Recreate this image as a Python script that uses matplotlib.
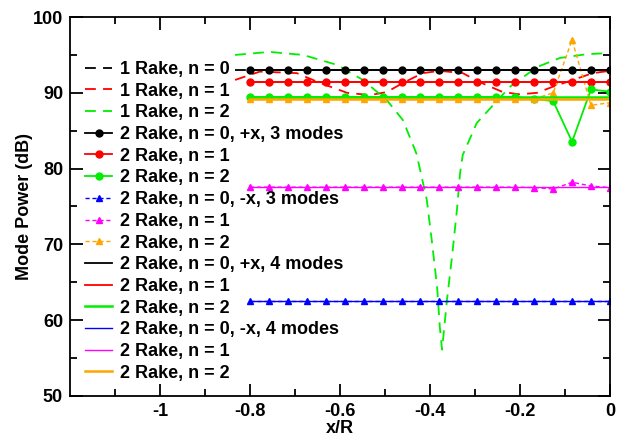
import matplotlib
matplotlib.use('Agg')
import matplotlib.pyplot as plt

plt.rcParams['font.family'] = ['Liberation Sans', 'DejaVu Sans']
plt.rcParams['font.weight'] = 'bold'
plt.rcParams['font.size'] = 13

# 1 rake curves
x1_n0 = [-0.833, -0.6, -0.4, -0.2, 0.0]
y1_n0 = [92.95, 92.95, 92.95, 92.95, 92.95]

x1_n1 = [-0.833, -0.778, -0.696, -0.644, -0.584, -0.533, -0.496, -0.460, -0.416,
         -0.378, -0.327, -0.289, -0.238, -0.200, -0.162, -0.127, -0.082, -0.038, 0.0]
y1_n1 = [91.7, 92.8, 92.6, 91.3, 90.0, 89.7, 90.1, 91.3, 92.6,
         92.9, 92.6, 91.4, 90.1, 89.8, 90.0, 90.8, 91.7, 92.6, 92.9]

x1_n2 = [-0.833, -0.756, -0.682, -0.607, -0.549, -0.496, -0.460, -0.430, -0.407,
         -0.396, -0.384, -0.378, -0.373, -0.362, -0.351, -0.340, -0.333, -0.327,
         -0.296, -0.273, -0.222, -0.162, -0.111, -0.051, 0.0]
y1_n2 = [95.0, 95.4, 95.0, 93.7, 91.7, 89.05, 86.4, 82.0, 75.9,
         70.6, 64.4, 59.1, 56.1, 62.7, 68.3, 74.5, 79.4, 81.8,
         86.0, 87.5, 90.8, 93.4, 94.6, 95.1, 95.25]

# 2 rake, 3 modes
x2 = [-0.8, -0.758, -0.716, -0.674, -0.632, -0.589, -0.547, -0.505, -0.463, -0.421,
      -0.379, -0.337, -0.295, -0.253, -0.211, -0.168, -0.126, -0.084, -0.042, 0.0]
p3_n0 = [92.95, 92.95, 92.95, 92.95, 92.95, 92.95, 92.95, 92.95, 92.95, 92.95,
         92.95, 92.95, 92.95, 92.95, 92.95, 92.95, 92.95, 92.95, 92.95, 92.95]
p3_n1 = [91.45, 91.45, 91.45, 91.45, 91.45, 91.45, 91.45, 91.45, 91.45, 91.45,
         91.45, 91.45, 91.45, 91.45, 91.45, 91.45, 91.45, 91.45, 91.45, 91.45]
p3_n2 = [89.45, 89.45, 89.45, 89.45, 89.45, 89.45, 89.45, 89.45, 89.45, 89.45,
         89.45, 89.45, 89.45, 89.45, 89.45, 89.2, 88.9, 83.55, 90.45, 90.15]
m3_n0 = [62.5, 62.5, 62.5, 62.5, 62.5, 62.5, 62.5, 62.5, 62.5, 62.5,
         62.5, 62.5, 62.5, 62.5, 62.5, 62.5, 62.5, 62.5, 62.5, 62.5]
m3_n1 = [77.55, 77.55, 77.55, 77.55, 77.55, 77.55, 77.55, 77.55, 77.55, 77.55,
         77.55, 77.55, 77.55, 77.55, 77.55, 77.5, 77.3, 78.2, 77.7, 77.5]
m3_n2 = [89.2, 89.2, 89.2, 89.2, 89.2, 89.2, 89.2, 89.2, 89.2, 89.2,
         89.2, 89.2, 89.2, 89.2, 89.2, 89.2, 90.0, 96.97, 88.35, 88.7]

# 2 rake, 4 modes (flat)
x4 = [-0.8, 0.0]
p4_n0 = [92.95, 92.95]
p4_n1 = [91.45, 91.45]
p4_n2 = [89.45, 89.45]
m4_n0 = [62.5, 62.5]
m4_n1 = [77.55, 77.55]
m4_n2 = [89.2, 89.2]

fig = plt.figure(figsize=(6.22, 4.37), dpi=100)
ax = fig.add_axes([0.1125, 0.094, 0.868, 0.867])

dash = (6, 4)
ax.plot(x1_n0, y1_n0, color='black', lw=1.3, dashes=dash, label='1 Rake, n = 0')
ax.plot(x1_n1, y1_n1, color='red', lw=1.3, dashes=dash, label='1 Rake, n = 1')
ax.plot(x1_n2, y1_n2, color='#00ee00', lw=1.3, dashes=dash, label='1 Rake, n = 2')

ax.plot(x2, p3_n0, color='black', lw=1.3, marker='o', ms=5, label='2 Rake, n = 0, +x, 3 modes')
ax.plot(x2, p3_n1, color='red', lw=1.3, marker='o', ms=5, label='2 Rake, n = 1')
ax.plot(x2, p3_n2, color='#00ee00', lw=1.3, marker='o', ms=5, label='2 Rake, n = 2')
ax.plot(x2, m3_n0, color='blue', lw=1.0, dashes=(3, 2), marker='^', ms=5, label='2 Rake, n = 0, -x, 3 modes')
ax.plot(x2, m3_n1, color='magenta', lw=1.0, dashes=(3, 2), marker='^', ms=5, label='2 Rake, n = 1')
ax.plot(x2, m3_n2, color='orange', lw=1.0, dashes=(3, 2), marker='^', ms=5, label='2 Rake, n = 2')

ax.plot(x4, p4_n0, color='black', lw=1.3, label='2 Rake, n = 0, +x, 4 modes')
ax.plot(x4, p4_n1, color='red', lw=1.3, label='2 Rake, n = 1')
ax.plot(x4, p4_n2, color='#00ee00', lw=1.8, label='2 Rake, n = 2')
ax.plot(x4, m4_n0, color='blue', lw=1.0, label='2 Rake, n = 0, -x, 4 modes')
ax.plot(x4, m4_n1, color='magenta', lw=1.0, label='2 Rake, n = 1')
ax.plot(x4, m4_n2, color='orange', lw=1.8, label='2 Rake, n = 2')

ax.set_xlim(-1.2, 0)
ax.set_ylim(50, 100)
ax.set_xticks([-1, -0.8, -0.6, -0.4, -0.2, 0])
ax.set_xticklabels(['-1', '-0.8', '-0.6', '-0.4', '-0.2', '0'])
ax.set_xticks([-1.1, -0.9, -0.7, -0.5, -0.3, -0.1], minor=True)
ax.set_yticks([50, 60, 70, 80, 90, 100])
ax.set_yticks([55, 65, 75, 85, 95], minor=True)
ax.tick_params(which='both', direction='in', top=True, right=True, width=1.3)
ax.tick_params(which='major', length=9, pad=5)
ax.tick_params(which='minor', length=5)
for s in ax.spines.values():
    s.set_linewidth(1.3)

ax.set_xlabel('x/R', fontweight='bold', labelpad=0)
ax.set_ylabel('Mode Power (dB)', fontweight='bold', labelpad=0)

ax.legend(loc='upper left', bbox_to_anchor=(0.028, 0.884), frameon=False,
          handlelength=1.5, handletextpad=0.45, labelspacing=0.26, borderpad=0,
          borderaxespad=0, prop={'weight': 'bold', 'size': 13})

fig.savefig('out.png', dpi=100)
